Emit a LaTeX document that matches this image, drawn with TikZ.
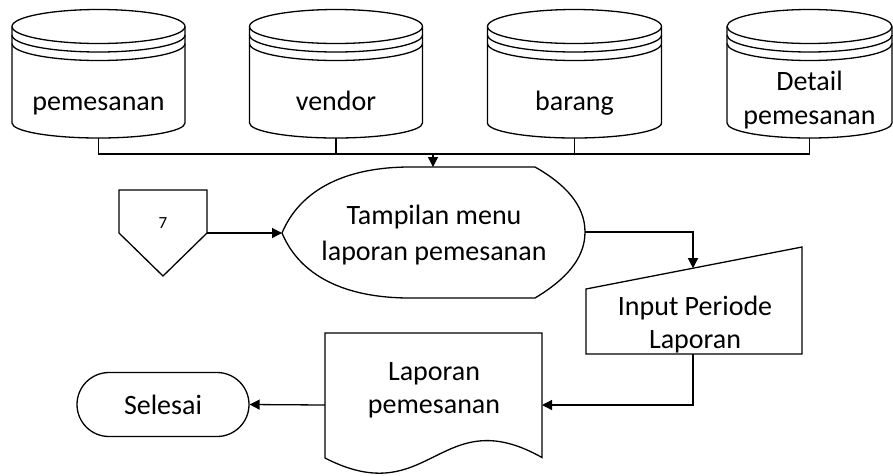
\documentclass[tikz,border=0pt]{standalone}
\usepackage{fontspec}
\setmainfont{Carlito}
\usetikzlibrary{arrows.meta,shapes.misc}
\begin{document}
\begin{tikzpicture}[x=1pt,y=-1pt,line width=1.3pt,
  lbl/.style={font=\fontsize{28}{34}\selectfont, align=center, inner sep=0pt, anchor=base},
  arr/.style={-{Triangle[length=10pt,width=10pt]}},
  term/.style={draw, rounded rectangle, minimum width=172, minimum height=64, inner sep=0pt, font=\fontsize{28}{34}\selectfont}]
\useasboundingbox (0,0) rectangle (893,475);
\newcommand\dbcyl[5]{% #1 cx, #2 half width, #3 name, #4 last baseline, #5 text
  \draw (#1,26.5) ellipse [x radius=#2, y radius=17];
  \draw (#1-#2,35) arc [start angle=180, end angle=0, x radius=#2, y radius=17];
  \draw (#1-#2,43.5) arc [start angle=180, end angle=0, x radius=#2, y radius=17];
  \draw (#1-#2,26.5) -- (#1-#2,123) arc [start angle=180, end angle=0, x radius=#2, y radius=15] -- (#1+#2,26.5);
  \node[lbl] (#3) at (#1,#4) {#5};
  \coordinate (#3b) at (#1,138);
}
\dbcyl{98.5}{86.5}{c1}{110}{pemesanan}
\dbcyl{336}{86.5}{c2}{110}{vendor}
\dbcyl{574.5}{87}{c3}{110}{barang}
\dbcyl{809.5}{82.5}{c4}{124}{\fontsize{28}{30}\selectfont Detail\\pemesanan}
% bus
\coordinate (bus1) at (98.5,154);
\coordinate (bus4) at (809.5,154);
\draw (c1b) -- (bus1) -- (bus4) -- (c4b);
\draw (c2b) -- (c2b |- bus1);
\draw (c3b) -- (c3b |- bus1);
% display
\draw (282,233) .. controls (300,190) and (345,167) .. (410,167) -- (535,167)
  .. controls (565,184) and (585,205) .. (585,232)
  .. controls (585,259) and (565,280) .. (535,298) -- (410,298)
  .. controls (345,298) and (300,276) .. (282,233) -- cycle;
\node[lbl, font=\fontsize{28}{36}\selectfont] (disp) at (434,260) {Tampilan menu\\laporan pemesanan};
\coordinate (dtop) at (433,167);
\coordinate (dl) at (282,233);
\coordinate (dr) at (585,232);
\draw[arr] (dtop |- bus1) -- (dtop);
% off-page connector
\draw (119,190) -- (207,190) -- (207,233) -- (163,276) -- (119,233) -- cycle;
\node[lbl, font=\fontsize{17}{20}\selectfont] (op) at (163,228) {7};
\coordinate (ope) at (207,233);
\draw[arr] (ope) -- (dl);
% manual input
\draw (586,289) -- (802,247) -- (802,354) -- (586,354) -- cycle;
\node[lbl, font=\fontsize{28}{33}\selectfont] (inp) at (695,348) {Input Periode\\Laporan};
\coordinate (mtop) at (693,268.2);
\coordinate (mbot) at (693,354);
\draw[arr] (dr) -| (mtop);
% document
\draw (325,333) -- (542,333) -- (542,457.5)
  .. controls (440,400) and (430,512) .. (325,458) -- cycle;
\node[lbl, font=\fontsize{28}{33}\selectfont] (doc) at (434,413) {Laporan\\pemesanan};
\coordinate (docr) at (542,405);
\coordinate (docl) at (325,405);
\draw[arr] (mbot) |- (docr);
% terminator
\node[term] (end) at (163,404.5) {Selesai};
\draw[arr] (docl) -- (end.east);
\end{tikzpicture}
\end{document}
